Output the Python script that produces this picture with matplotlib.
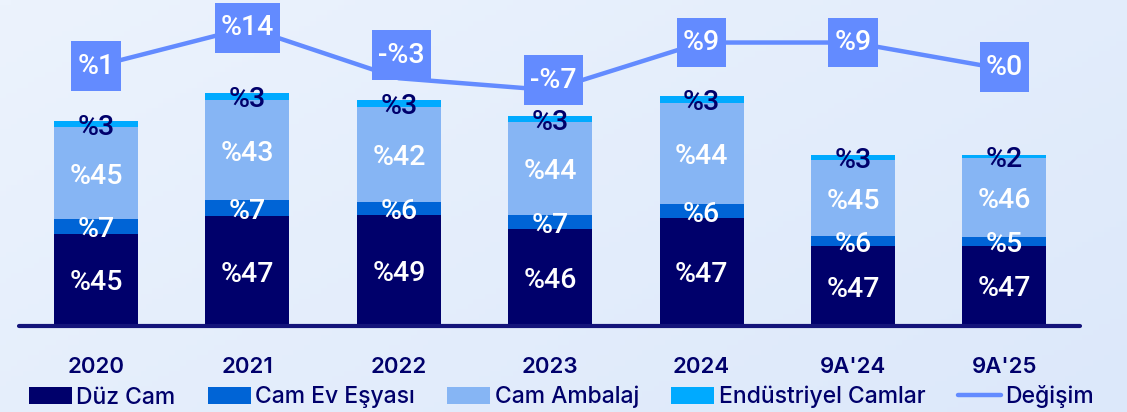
import numpy as np
import matplotlib
matplotlib.use("Agg")
from matplotlib import pyplot as plt
from matplotlib.colors import LinearSegmentedColormap
from matplotlib.path import Path

# ------------------------- data -------------------------
years = ["2020", "2021", "2022", "2023", "2024", "9A'24", "9A'25"]
duz_cam = [45, 47, 49, 46, 47, 47, 47]
cam_ev = [7, 7, 6, 7, 6, 6, 5]
cam_ambalaj = [45, 43, 42, 44, 44, 45, 46]
endustriyel = [3, 3, 3, 3, 3, 3, 2]
degisim = [1, 14, -3, -7, 9, 9, 0]
# relative total size of each bar
totals = [205, 233, 226, 210, 230, 171, 171]

series = [
    ("Düz Cam", duz_cam, "#00006b", "white"),
    ("Cam Ev Eşyası", cam_ev, "#0064d6", "white"),
    ("Cam Ambalaj", cam_ambalaj, "#86b5f4", "white"),
    ("Endüstriyel Camlar", endustriyel, "#00aaff", "#00006b"),
]
line_col = "#638bff"
navy = "#00006b"


def label_box(x0, y0, width, height, mutation_size):
    # rectangle with more vertical than horizontal padding
    px = 0.22 * mutation_size
    py = 0.40 * mutation_size
    x0, y0 = x0 - px, y0 - py
    x1, y1 = x0 + width + 2 * px, y0 + height + 2 * py
    return Path([(x0, y0), (x1, y0), (x1, y1), (x0, y1), (x0, y0)],
                [Path.MOVETO, Path.LINETO, Path.LINETO, Path.LINETO, Path.CLOSEPOLY])


# ------------------------- figure -------------------------
fig = plt.figure(figsize=(11.27, 4.12), dpi=100)

# soft background gradient
bg = fig.add_axes([0, 0, 1, 1], zorder=-5)
gx, gy = np.meshgrid(np.linspace(0, 1, 200), np.linspace(0, 1, 80))
grad = 0.6 * gx + 0.4 * gy
cmap = LinearSegmentedColormap.from_list("bg", ["#ecf3fd", "#dce8fa"])
bg.imshow(grad, cmap=cmap, aspect="auto", extent=[0, 1, 0, 1], origin="upper")
bg.axis("off")

bottom = 1 - 326 / 412
ax = fig.add_axes([19 / 1127, bottom, 1061 / 1127, 1 - bottom])
ax.set_facecolor("none")

x = np.arange(len(years))
tot = np.array(totals, dtype=float)
shares = np.array([s[1] for s in series], dtype=float)
shares_sum = shares.sum(axis=0)

base = np.zeros(len(years))
handles = []
for (name, vals, col, tcol), sh in zip(series, shares):
    h = tot * sh / shares_sum
    b = ax.bar(x, h, width=0.555, bottom=base, color=col, label=name, zorder=2)
    handles.append(b)
    for xi, bi, hi, v in zip(x, base, h, vals):
        ax.text(xi, bi + hi / 2, "%" + str(v), ha="center", va="center_baseline",
                color=tcol, fontsize=20.5, family="Roboto", fontweight=500, zorder=4)
    base = base + h

ax.set_xlim(-0.509, 6.499)
ax.set_ylim(0, 326)
for s in ["top", "right", "left"]:
    ax.spines[s].set_visible(False)
ax.spines["bottom"].set_color("#14147a")
ax.spines["bottom"].set_linewidth(3)
ax.spines["bottom"].set_capstyle("round")
ax.set_yticks([])
ax.set_xticks(x)
ax.set_xticklabels(years, fontsize=16, color=navy, family="Inter", fontweight="semibold")
ax.tick_params(axis="x", length=0, pad=22)

# change line on a secondary scale
ax2 = ax.twinx()
ax2.set_ylim(-86.3, 23.3)
ax2.axis("off")
ln, = ax2.plot(x, degisim, color=line_col, lw=3.2, zorder=3, label="Değişim",
               solid_capstyle="round")
label_dy = [0, 0, 23, 10, 0, 0, 2]
for xi, v, dy in zip(x, degisim, label_dy):
    txt = ("-%" + str(-v)) if v < 0 else ("%" + str(v))
    ax2.annotate(txt, (xi, v), xytext=(2 if v < 0 else 0, dy * 0.72),
                 textcoords="offset points", ha="center", va="center",
                 color="white", fontsize=20.5, family="Roboto", fontweight=500,
                 zorder=6, bbox=dict(boxstyle=label_box, fc=line_col, ec="none"))

leg = fig.legend(handles + [ln], [s[0] for s in series] + ["Değişim"],
                 loc="center", bbox_to_anchor=(0.498, 1 - 397 / 412), ncol=5,
                 frameon=False, handlelength=1.88, handleheight=0.7,
                 handletextpad=0.2, columnspacing=1.4,
                 prop={"family": "Inter", "size": 16.5, "weight": 500})
for t in leg.get_texts():
    t.set_color(navy)

fig.savefig("out.png", dpi=100)
